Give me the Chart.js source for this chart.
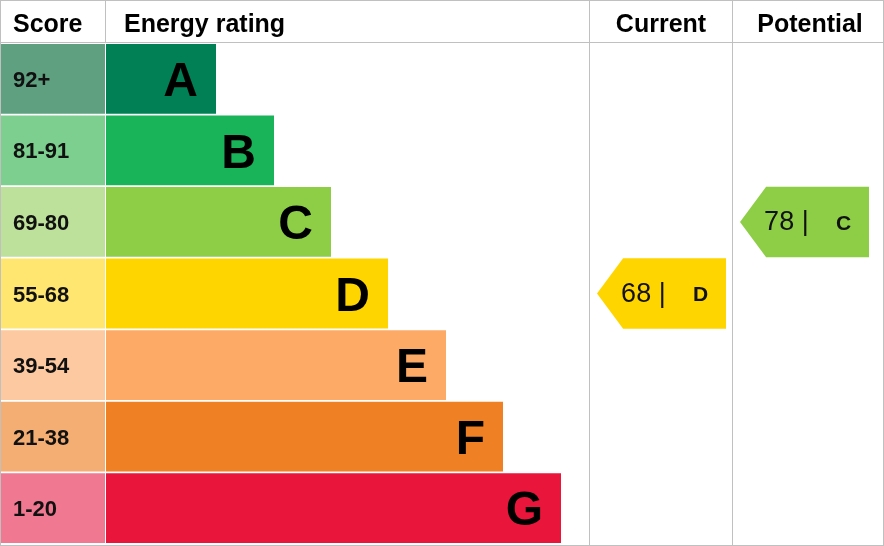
<!DOCTYPE html>
<html><head><meta charset="utf-8">
<script src="https://cdn.jsdelivr.net/npm/chart.js"></script>
<style>html,body{margin:0;background:#fff}#w{width:884px;height:546px}</style>
</head><body><div id="w"><canvas id="c"></canvas></div>
<script>
const bands = ['A','B','C','D','E','F','G'];
const scoreLabels = ['92+','81-91','69-80','55-68','39-54','21-38','1-20'];
const barEnds = [216,274,331,388,446,503,561];
const barColors = ['#008054','#19b459','#8dce46','#ffd500','#fcaa65','#ef8023','#e9153b'];
const scoreColors = ['#5fa080','#7ccf8e','#bde09a','#ffe670','#fdc9a0','#f4ad72','#f07890'];
const currentScore = 68, currentBand = 'D';
const potentialScore = 78, potentialBand = 'C';

const font = '"Liberation Sans", Arial, sans-serif';
const plugin = {
  id:'epc',
  afterDatasetsDraw(chart){
    const {ctx} = chart, y = chart.scales.y, x = chart.scales.x;
    const rowH = (y.getPixelForValue(1)-y.getPixelForValue(0));
    ctx.save();
    // headers
    ctx.fillStyle='#000'; ctx.font='bold 25px '+font; ctx.textBaseline='middle';
    ctx.fillText('Score',13,25); ctx.fillText('Energy rating',124,25);
    ctx.textAlign='center'; ctx.fillText('Current',661,25); ctx.fillText('Potential',810,25);
    // row labels
    bands.forEach((b,i)=>{
      const cy=y.getPixelForValue(i);
      ctx.textAlign='left'; ctx.font='bold 22px '+font; ctx.fillStyle='#111';
      ctx.fillText(scoreLabels[i],13,cy+2);
      ctx.textAlign='right'; ctx.font='bold 48px '+font; ctx.fillStyle='#000';
      ctx.fillText(b,x.getPixelForValue(barEnds[i])-18,cy+4);
    });
    // grid
    ctx.strokeStyle='#c0c0c0'; ctx.lineWidth=1;
    const ln=(a,b,c,d)=>{ctx.beginPath();ctx.moveTo(a,b);ctx.lineTo(c,d);ctx.stroke();};
    ln(0.5,0.5,883.5,0.5); ln(0.5,545.5,883.5,545.5); ln(0.5,0,0.5,546); ln(883.5,0,883.5,546);
    ln(0,42.5,884,42.5); ln(105.5,0,105.5,43); ln(589.5,0,589.5,546); ln(732.5,0,732.5,546);
    // arrows
    const arrow=(score,band,left,right)=>{
      const i=bands.indexOf(band), cy=y.getPixelForValue(i), h=rowH-1;
      const top=cy-h/2, bot=cy+h/2, tip=left, bodyL=left+h*0.37;
      ctx.fillStyle=barColors[i];
      ctx.beginPath(); ctx.moveTo(tip,cy); ctx.lineTo(bodyL,top); ctx.lineTo(right,top);
      ctx.lineTo(right,bot); ctx.lineTo(bodyL,bot); ctx.closePath(); ctx.fill();
      ctx.fillStyle='#111'; ctx.textAlign='left'; ctx.font='27px '+font;
      ctx.fillText(score+' |',bodyL-2,cy+1);
      ctx.font='bold 21px '+font; ctx.fillText(band,bodyL+70,cy+2);
    };
    arrow(currentScore,currentBand,597,726);
    arrow(potentialScore,potentialBand,740,869);
    ctx.restore();
  }
};
new Chart(document.getElementById('c'),{
  type:'bar',
  data:{labels:bands,datasets:[
    {data:bands.map(()=>[0,105]),backgroundColor:scoreColors,grouped:false,barPercentage:1,categoryPercentage:0.975},
    {data:barEnds.map(e=>[106,e]),backgroundColor:barColors,grouped:false,barPercentage:1,categoryPercentage:0.975}
  ]},
  options:{indexAxis:'y',responsive:true,maintainAspectRatio:false,animation:false,
    layout:{padding:{top:43,bottom:2,left:0,right:0}},
    plugins:{legend:{display:false},tooltip:{enabled:false}},
    scales:{x:{display:false,min:0,max:884},y:{display:false}}},
  plugins:[plugin]
});
</script></body></html>
